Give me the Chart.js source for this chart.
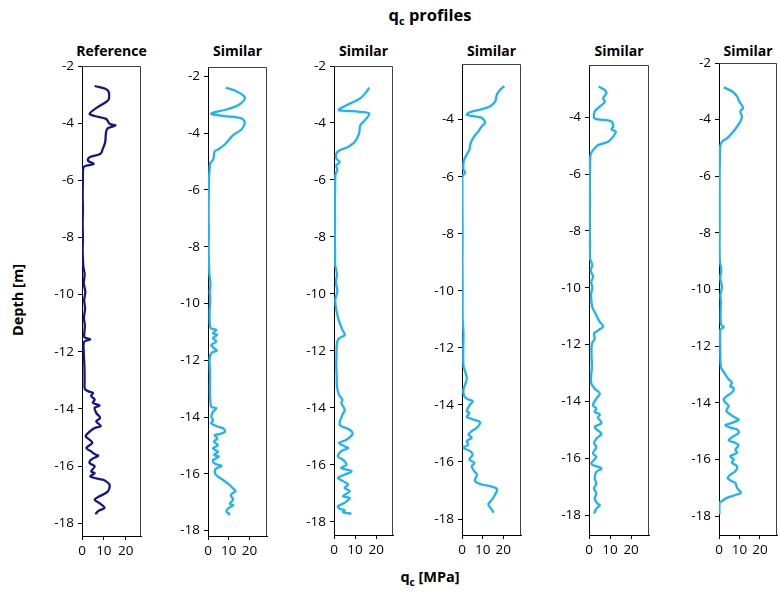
<!DOCTYPE html>
<html>
<head>
<meta charset="utf-8">
<script src="https://cdn.jsdelivr.net/npm/chart.js@4.4.1/dist/chart.umd.min.js"></script>
<style>
  html, body { margin: 0; padding: 0; background: #fff; }
  #wrap { position: relative; width: 779px; height: 596px; overflow: hidden; font-family: 'Open Sans', sans-serif; color: #000; }
  .lbl { position: absolute; font-weight: bold; white-space: nowrap; line-height: 1; }
  .panel-title { font-size: 14px; transform: translateX(-50%); }
  canvas { position: absolute; }
</style>
</head>
<body>
<div id="wrap">
  <div class="lbl" style="left:430px;top:7px;font-size:16.5px;transform:translateX(-50%)">q<sub style="font-size:11px">c</sub> profiles</div>
  <div class="lbl" style="left:18px;top:300px;font-size:14.5px;transform:translate(-50%,-50%) rotate(-90deg)">Depth [m]</div>
  <div class="lbl" style="left:430px;top:570px;font-size:14.5px;transform:translateX(-50%)">q<sub style="font-size:10px">c</sub> [MPa]</div>
</div>
<script>
// Depth [m] and cone resistance qc [MPa]
const depth1 = [
  -2.70, -2.85, -3.15, -3.26, -3.45, -3.67, -3.75, -3.85, -4.02, -4.08,
  -4.18, -4.32, -4.67, -4.90, -5.07, -5.19, -5.31, -5.43, -5.51, -5.60,
  -6.0, -6.5, -7.0, -7.5, -8.0, -8.5, -9.0, -9.3, -9.6, -9.9,
  -10.2, -10.5, -10.8, -11.1, -11.4, -11.5, -11.57, -11.65, -12.0, -12.5,
  -13.0, -13.3, -13.38, -13.44, -13.55, -13.67, -13.79, -13.88, -13.96, -14.14,
  -14.32, -14.44, -14.60, -14.67, -14.80, -14.96, -15.08, -15.19, -15.37, -15.49,
  -15.60, -15.64, -15.78, -15.90, -16.01, -16.19, -16.25, -16.36, -16.42, -16.48,
  -16.54, -16.65, -16.89, -17.06, -17.18, -17.30, -17.47, -17.55, -17.65, -17.70
];
const qc1 = [
  5.8, 11.8, 12.3, 11.0, 7.0, 3.5, 5.8, 11.0, 12.6, 15.3,
  11.8, 11.0, 10.6, 9.5, 8.5, 3.5, 2.7, 5.3, 1.2, 0.5,
  0.4, 0.3, 0.4, 0.3, 0.4, 0.3, 0.6, 1.2, 0.8, 1.5,
  1.0, 1.4, 0.9, 1.3, 1.0, 1.2, 3.8, 1.0, 0.8, 1.1,
  1.2, 1.3, 2.7, 5.0, 4.2, 5.8, 5.0, 8.0, 5.8, 6.5,
  8.3, 6.5, 8.6, 5.8, 3.5, 1.7, 3.5, 4.7, 2.0, 4.2,
  6.2, 7.4, 4.2, 3.5, 5.8, 4.2, 5.8, 3.8, 5.8, 9.5,
  11.0, 12.6, 11.8, 8.0, 5.8, 8.0, 10.3, 8.0, 6.5, 6.5
];

const depth2 = [
  -2.40, -2.50, -2.74, -2.98, -3.15, -3.31, -3.39, -3.48, -3.63, -3.87,
  -4.07, -4.40, -4.58, -4.64, -4.79, -4.94, -5.06, -5.24, -5.6, -6.0,
  -6.5, -7.0, -7.5, -8.0, -8.5, -9.0, -9.3, -9.6, -9.9, -10.2,
  -10.58, -10.87, -10.93, -11.05, -11.10, -11.22, -11.34, -11.46, -11.58, -11.66,
  -11.75, -11.93, -12.22, -12.6, -13.0, -13.40, -13.64, -13.69, -13.81, -13.99,
  -14.11, -14.22, -14.34, -14.40, -14.52, -14.60, -14.64, -14.75, -14.87, -14.99,
  -15.11, -15.22, -15.34, -15.40, -15.52, -15.64, -15.72, -15.81, -15.93, -16.05,
  -16.22, -16.40, -16.52, -16.60, -16.75, -16.91, -17.05, -17.11, -17.22, -17.34,
  -17.40, -17.46
];
const qc2 = [
  8.5, 12.9, 17.7, 15.3, 9.7, 1.6, 7.3, 16.1, 17.7, 16.1,
  12.1, 8.1, 4.8, 3.2, 2.9, 2.4, 1.1, 0.8, 0.5, 0.4,
  0.3, 0.3, 0.4, 0.3, 0.4, 0.7, 1.2, 0.8, 1.1, 0.8,
  0.8, 1.3, 4.0, 2.4, 4.4, 2.4, 4.0, 1.6, 2.9, 4.2,
  1.6, 0.8, 0.8, 1.0, 0.9, 1.1, 1.6, 4.0, 2.4, 1.6,
  2.4, 1.6, 4.8, 7.3, 8.1, 5.6, 3.2, 4.5, 2.9, 4.8,
  2.4, 4.8, 2.9, 5.2, 2.4, 3.2, 6.5, 4.0, 3.2, 4.0,
  7.3, 10.5, 12.1, 13.2, 11.0, 12.1, 10.5, 12.1, 9.7, 8.9,
  10.2, 9.7
];

const depth3 = [
  -2.76, -2.91, -3.15, -3.32, -3.50, -3.56, -3.58, -3.61, -3.67, -3.91,
  -4.08, -4.37, -4.67, -4.84, -4.96, -5.08, -5.25, -5.37, -5.49, -5.66,
  -5.78, -5.90, -6.5, -7.0, -7.5, -8.0, -8.5, -9.0, -9.3, -9.6,
  -9.9, -10.2, -10.56, -10.91, -11.26, -11.44, -11.56, -11.73, -12.1, -12.55,
  -12.9, -13.25, -13.54, -13.72, -13.83, -14.07, -14.24, -14.59, -14.71, -14.82,
  -14.94, -15.12, -15.23, -15.35, -15.41, -15.52, -15.70, -15.82, -15.99, -16.11,
  -16.22, -16.34, -16.46, -16.57, -16.69, -16.81, -16.92, -17.10, -17.16, -17.33,
  -17.45, -17.54, -17.59, -17.66, -17.71
];
const qc3 = [
  16.7, 15.4, 12.2, 7.5, 2.7, 2.4, 7.5, 12.2, 16.7, 14.6,
  12.5, 11.9, 9.8, 6.7, 2.7, 1.1, 1.1, 2.7, 1.1, 1.6,
  0.8, 0.6, 0.5, 0.4, 0.5, 0.4, 0.5, 0.6, 1.4, 0.9,
  1.6, 0.6, 1.1, 2.2, 4.0, 5.1, 2.4, 1.4, 1.2, 1.1,
  1.3, 1.4, 2.4, 4.0, 3.5, 5.1, 4.0, 2.7, 5.9, 8.3,
  8.7, 5.9, 2.4, 5.1, 6.7, 3.5, 1.9, 4.3, 5.9, 3.5,
  8.3, 5.1, 1.9, 4.3, 6.7, 5.1, 7.5, 4.3, 7.5, 5.1,
  1.9, 2.7, 5.1, 4.3, 8.3
];

const depth4 = [
  -2.83, -2.95, -3.13, -3.36, -3.53, -3.65, -3.74, -3.83, -3.88, -3.94,
  -4.12, -4.23, -4.41, -4.58, -4.82, -5.05, -5.22, -5.40, -5.52, -5.75,
  -5.86, -5.98, -6.21, -7.0, -8.0, -9.0, -10.0, -11.0, -11.47, -12.0,
  -12.64, -12.82, -13.05, -13.23, -13.46, -13.69, -13.81, -13.87, -13.99, -14.22,
  -14.28, -14.42, -14.51, -14.61, -14.80, -14.92, -15.04, -15.15, -15.27, -15.39,
  -15.50, -15.62, -15.74, -15.91, -16.03, -16.15, -16.32, -16.44, -16.67, -16.79,
  -16.85, -16.95, -17.14, -17.32, -17.49, -17.67, -17.78
];
const qc4 = [
  20.5, 18.5, 16.9, 16.1, 13.7, 8.8, 3.9, 2.3, 5.5, 9.6,
  11.2, 9.6, 8.0, 6.0, 4.2, 3.6, 2.3, 1.1, 0.7, 0.7,
  1.5, 0.3, 0.2, 0.2, 0.3, 0.2, 0.3, 0.3, 0.7, 0.6,
  0.7, 1.5, 2.3, 1.8, 0.7, 1.1, 3.1, 5.2, 3.9, 2.3,
  3.6, 2.3, 5.5, 8.8, 7.2, 4.7, 3.1, 4.7, 2.3, 3.1,
  0.7, 3.9, 5.2, 3.6, 6.0, 4.7, 5.9, 7.2, 6.3, 9.6,
  13.7, 16.9, 16.1, 14.5, 12.8, 14.5, 15.3
];

const depth5 = [
  -2.92, -3.04, -3.15, -3.33, -3.45, -3.68, -3.80, -4.04, -4.09, -4.15,
  -4.33, -4.42, -4.51, -4.68, -4.86, -4.98, -5.09, -5.25, -5.39, -5.86,
  -6.5, -7.0, -7.5, -8.0, -8.5, -9.0, -9.2, -9.4, -9.6, -9.8,
  -10.0, -10.2, -10.44, -10.68, -10.97, -11.20, -11.36, -11.50, -11.61, -11.79,
  -11.96, -12.4, -12.79, -13.1, -13.37, -13.55, -13.72, -13.90, -14.13, -14.25,
  -14.37, -14.45, -14.57, -14.76, -14.90, -15.07, -15.15, -15.31, -15.48, -15.60,
  -15.83, -15.95, -16.19, -16.36, -16.48, -16.71, -16.89, -17.06, -17.24, -17.42,
  -17.59, -17.65, -17.77, -17.94
];
const qc5 = [
  4.6, 7.5, 8.3, 6.7, 7.5, 4.3, 2.7, 2.7, 6.7, 10.7,
  11.5, 10.7, 12.7, 11.5, 9.1, 4.3, 2.7, 1.1, 0.6, 0.5,
  0.4, 0.5, 0.4, 0.4, 0.5, 0.6, 1.6, 0.8, 1.9, 1.1,
  1.6, 1.0, 1.1, 1.6, 3.5, 5.1, 6.7, 4.3, 2.4, 2.7,
  1.4, 1.2, 1.4, 1.0, 1.1, 2.7, 5.1, 3.5, 1.9, 3.5,
  2.7, 5.1, 4.3, 5.9, 2.7, 5.1, 5.9, 3.5, 2.4, 3.5,
  1.9, 3.5, 1.1, 5.9, 3.5, 2.7, 3.5, 2.4, 3.5, 2.7,
  4.0, 5.1, 3.5, 2.4
];

const depth6 = [
  -2.86, -3.00, -3.18, -3.36, -3.50, -3.60, -3.71, -3.89, -4.07, -4.25,
  -4.48, -4.66, -4.78, -4.90, -5.13, -6.0, -7.0, -8.0, -9.0, -9.3,
  -9.6, -9.9, -10.2, -10.42, -10.8, -11.24, -11.33, -11.41, -12.0, -12.53,
  -12.76, -12.88, -13.17, -13.29, -13.41, -13.49, -13.64, -13.76, -13.88, -13.99,
  -14.11, -14.29, -14.41, -14.53, -14.60, -14.71, -14.79, -14.88, -14.94, -15.06,
  -15.22, -15.33, -15.42, -15.50, -15.65, -15.77, -15.89, -16.00, -16.12, -16.24,
  -16.42, -16.54, -16.66, -16.77, -16.83, -17.00, -17.18, -17.24, -17.36, -17.47,
  -17.53, -17.94
];
const qc6 = [
  2.3, 6.3, 8.8, 9.9, 11.2, 11.7, 10.4, 11.2, 10.4, 8.8,
  6.3, 3.9, 1.5, 0.7, 0.5, 0.3, 0.3, 0.3, 0.4, 1.1,
  0.6, 1.4, 0.7, 0.9, 0.8, 1.0, 2.3, 0.7, 0.6, 0.7,
  1.0, 2.0, 4.7, 6.3, 5.5, 7.2, 6.3, 3.9, 2.3, 3.1,
  4.7, 3.6, 5.5, 8.0, 9.6, 6.3, 3.1, 5.5, 8.8, 9.6,
  6.3, 4.7, 8.0, 9.6, 8.0, 8.8, 5.5, 7.2, 6.3, 8.8,
  8.0, 5.5, 4.2, 6.3, 8.0, 8.8, 10.7, 8.8, 3.9, 1.5,
  0.3, 0.2
];

const NAVY = '#16168a';
const SKY = '#1cb4f2';
const FONT = { family: "'Open Sans', sans-serif", size: 13.5 };

// plot area in page pixels + axis limits of each small panel
const PANELS = [
  { title: 'Reference', depth: depth1, qc: qc1, color: NAVY, left: 82, right: 141, top: 66, bottom: 536, yMax: -2, yMin: -18.45, xMax: 27 },
  { title: 'Similar', depth: depth2, qc: qc2, color: SKY, left: 208, right: 267, top: 67, bottom: 536, yMax: -1.67, yMin: -18.19, xMax: 28.4 },
  { title: 'Similar', depth: depth3, qc: qc3, color: SKY, left: 334, right: 393, top: 66, bottom: 535, yMax: -2, yMin: -18.46, xMax: 28 },
  { title: 'Similar', depth: depth4, qc: qc4, color: SKY, left: 462, right: 521, top: 64, bottom: 535, yMax: -2.05, yMin: -18.56, xMax: 28.6 },
  { title: 'Similar', depth: depth5, qc: qc5, color: SKY, left: 589, right: 649, top: 65, bottom: 535, yMax: -2.16, yMin: -18.7, xMax: 28.5 },
  { title: 'Similar', depth: depth6, qc: qc6, color: SKY, left: 719, right: 777, top: 63, bottom: 535, yMax: -2, yMin: -18.67, xMax: 28.3 },
];

const Y_AXIS_W = 50;
const X_AXIS_H = 30;
const PAD_TOP = 20;
const PAD_RIGHT = 2;

// top + right edge of the plot box (left/bottom are the axes)
const framePlugin = {
  id: 'frame',
  afterDraw(chart) {
    const { ctx, chartArea: a } = chart;
    ctx.save();
    ctx.strokeStyle = '#3f3f3f';
    ctx.lineWidth = 1;
    ctx.beginPath();
    ctx.moveTo(a.left, a.top + 0.5);
    ctx.lineTo(a.right - 0.5, a.top + 0.5);
    ctx.lineTo(a.right - 0.5, a.bottom);
    ctx.stroke();
    ctx.restore();
  }
};

const wrap = document.getElementById('wrap');

PANELS.forEach(p => {
  const w = Y_AXIS_W + (p.right - p.left) + PAD_RIGHT;
  const h = PAD_TOP + (p.bottom - p.top) + X_AXIS_H;

  const title = document.createElement('div');
  title.className = 'lbl panel-title';
  title.style.left = ((p.left + p.right) / 2) + 'px';
  title.style.top = '44px';
  title.textContent = p.title;
  wrap.appendChild(title);

  const canvas = document.createElement('canvas');
  canvas.width = w;
  canvas.height = h;
  canvas.style.left = (p.left - Y_AXIS_W) + 'px';
  canvas.style.top = (p.top - PAD_TOP) + 'px';
  canvas.style.width = w + 'px';
  canvas.style.height = h + 'px';
  wrap.appendChild(canvas);

  const points = p.depth.map((d, i) => ({ x: p.qc[i], y: d }));

  new Chart(canvas.getContext('2d'), {
    type: 'scatter',
    data: {
      datasets: [{
        data: points,
        showLine: true,
        borderColor: p.color,
        borderWidth: 2.3,
        pointRadius: 0,
        tension: 0.35,
        fill: false,
      }],
    },
    options: {
      responsive: false,
      animation: false,
      devicePixelRatio: 1,
      layout: { padding: { top: PAD_TOP, right: PAD_RIGHT, left: 0, bottom: 0 } },
      plugins: { legend: { display: false }, tooltip: { enabled: false } },
      scales: {
        x: {
          type: 'linear',
          position: 'bottom',
          min: 0,
          max: p.xMax,
          ticks: { stepSize: 10, includeBounds: false, color: '#000', font: FONT, padding: 3, maxRotation: 0 },
          grid: { drawOnChartArea: false, drawTicks: true, tickLength: 4, color: '#000' },
          border: { color: '#000', width: 1 },
          afterFit(s) { s.height = X_AXIS_H; },
        },
        y: {
          type: 'linear',
          min: p.yMin,
          max: p.yMax,
          ticks: { stepSize: 2, includeBounds: false, color: '#000', font: FONT, padding: 4 },
          grid: { drawOnChartArea: false, drawTicks: true, tickLength: 4, color: '#000' },
          border: { color: '#000', width: 1 },
          afterFit(s) { s.width = Y_AXIS_W; },
        },
      },
    },
    plugins: [framePlugin],
  });
});
</script>
</body>
</html>
